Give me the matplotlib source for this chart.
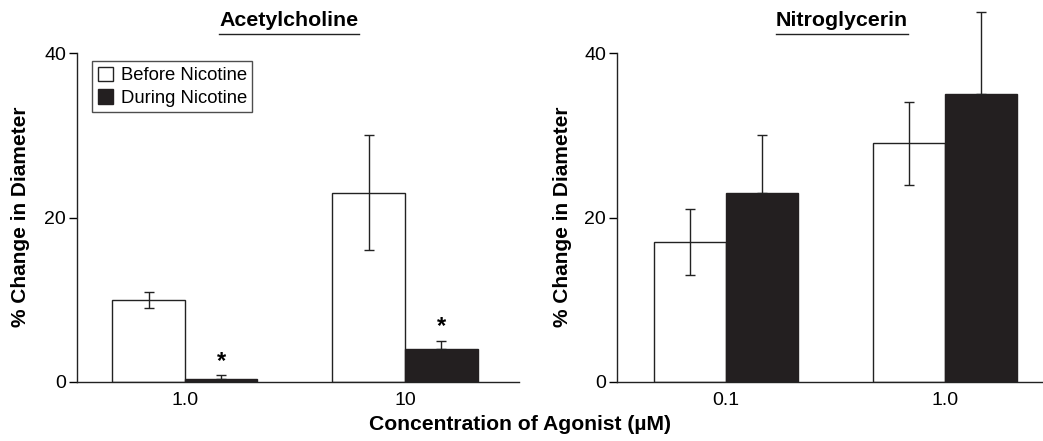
import matplotlib
matplotlib.use("Agg")
import matplotlib.pyplot as plt
import numpy as np
from matplotlib.patches import Patch

plt.rcParams['font.family'] = ['Liberation Sans', 'DejaVu Sans']

ach_labels = ["1.0", "10"]
ach_before = [10, 23]
ach_before_err = [1, 7]
ach_during = [0.4, 4]
ach_during_err = [0.4, 1]
ach_sig = [True, True]

ntg_labels = ["0.1", "1.0"]
ntg_before = [17, 29]
ntg_before_err = [4, 5]
ntg_during = [23, 35]
ntg_during_err = [7, 10]
ntg_sig = [False, False]

dark = "#231f20"
W, H = 1043, 441
fig = plt.figure(figsize=(W/100, H/100), dpi=100)

def px_axes(x0, x1, ytop, ybot):
    return fig.add_axes([x0/W, 1-ybot/H, (x1-x0)/W, (ybot-ytop)/H])

def panel(ax, labels, before, berr, during, derr, sig, xlim, ylab_x):
    x = np.arange(len(labels))
    bw = 0.33
    ax.bar(x - bw/2, before, bw, color="white", edgecolor="#222222", linewidth=1.0, zorder=2)
    ax.bar(x + bw/2, during, bw, color=dark, edgecolor=dark, linewidth=1.0, zorder=2)
    ax.errorbar(x - bw/2, before, yerr=berr, fmt="none", ecolor="#222222",
                elinewidth=1.0, capsize=3.3, capthick=1.0, zorder=3, clip_on=False)
    ax.errorbar(x + bw/2, during, yerr=[[0]*len(during), derr], fmt="none", ecolor="#222222",
                elinewidth=1.0, capsize=3.3, capthick=1.0, zorder=3, clip_on=False)
    for xi, d, e, s in zip(x, during, derr, sig):
        if s:
            ax.annotate("*", (xi + bw/2, d + e), xytext=(0, 2), textcoords="offset points",
                        ha="center", va="bottom", fontsize=17, fontweight="bold")
    ax.set_ylim(0, 40)
    ax.set_xlim(*xlim)
    ax.set_yticks([0, 20, 40])
    ax.set_xticks(x)
    ax.set_xticklabels(labels)
    ax.tick_params(axis="x", length=0, pad=7, labelsize=14)
    ax.tick_params(axis="y", length=6, width=1.0, pad=2, labelsize=14, direction="out")
    for s in ["top", "right"]:
        ax.spines[s].set_visible(False)
    for s in ["left", "bottom"]:
        ax.spines[s].set_linewidth(1.0)
        ax.spines[s].set_color("#222222")
    ax.patch.set_visible(False)
    fig.text(ylab_x/W, 1-217/H, "% Change in Diameter", rotation=90, ha="center", va="center",
             fontsize=15, fontweight="bold")

ax1 = px_axes(77, 519, 53, 382)
panel(ax1, ach_labels, ach_before, ach_before_err, ach_during, ach_during_err, ach_sig, (-0.49, 1.518), 21)
ax2 = px_axes(617, 1043, 53, 382)
panel(ax2, ntg_labels, ntg_before, ntg_before_err, ntg_during, ntg_during_err, ntg_sig, (-0.50, 1.45), 563)

leg = ax1.legend(handles=[Patch(facecolor="white", edgecolor="#222222", linewidth=1.0, label="Before Nicotine"),
                          Patch(facecolor=dark, edgecolor=dark, label="During Nicotine")],
                 loc="upper left", bbox_to_anchor=(15/442, 1-8/329), frameon=True, fancybox=False,
                 fontsize=13.3, handlelength=0.85, handleheight=0.85, handletextpad=0.4,
                 borderpad=0.3, labelspacing=0.25, borderaxespad=0)
leg.get_frame().set_edgecolor("#222222")
leg.get_frame().set_linewidth(1.0)

t1 = fig.text(289/W, 1-21/H, "Acetylcholine", ha="center", va="center", fontsize=15.4, fontweight="bold")
t2 = fig.text(842/W, 1-21/H, "Nitroglycerin", ha="center", va="center", fontsize=15.4, fontweight="bold")
fig.canvas.draw()
r = fig.canvas.get_renderer()
for t in (t1, t2):
    bb = t.get_window_extent(r)
    yl = H - 34
    fig.add_artist(plt.Line2D([bb.x0/W, bb.x1/W], [yl/H, yl/H], color="#222222", linewidth=1.0,
                              transform=fig.transFigure))

fig.text(520/W, 1-425/H, "Concentration of Agonist (\u00b5M)", ha="center", va="center",
         fontsize=15.2, fontweight="bold")

fig.savefig("out.png", dpi=100)
